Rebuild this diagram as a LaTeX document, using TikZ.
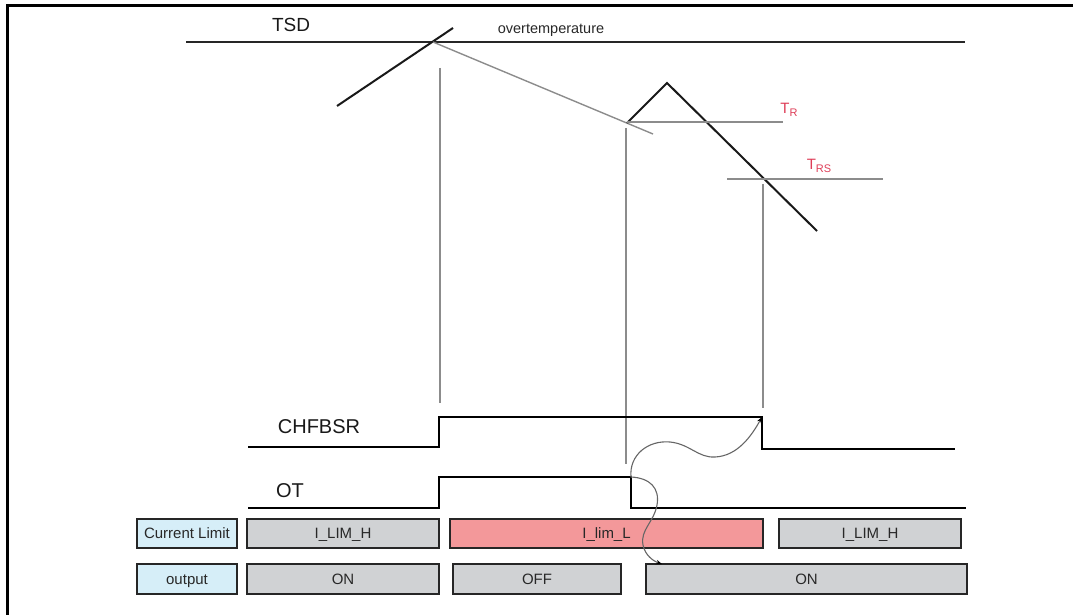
\documentclass[tikz,border=0pt]{standalone}
\usepackage{fontspec}
\setmainfont{Liberation Sans}
\usetikzlibrary{arrows.meta}
\definecolor{boxgray}{RGB}{208,210,212}
\definecolor{boxpink}{RGB}{243,152,154}
\definecolor{boxblue}{RGB}{214,238,248}
\definecolor{tred}{RGB}{222,62,88}
\definecolor{guide}{RGB}{140,140,140}
\definecolor{txt}{RGB}{40,40,40}
\tikzset{
  frameline/.style={line width=3pt, black},
  wave/.style={line width=2.8pt, black, line join=miter},
  temp/.style={line width=2pt, black!90},
  thinline/.style={line width=1.4pt, guide},
  guideline/.style={line width=1.3pt, guide},
  cbox/.style={draw=black!85, line width=1.5pt, inner sep=0pt, text=txt,
    text height=10.7pt, text depth=0pt,
    font=\fontsize{15}{17}\selectfont},
  biglabel/.style={inner sep=0pt, text=black!90, font=\fontsize{20}{23}\selectfont},
  tlabel/.style={inner sep=0pt, text=tred, font=\fontsize{15}{17}\selectfont},
  causal/.style={line width=1.1pt, black!60, -{Stealth[length=6pt,width=4.5pt,black]}}
}
\begin{document}
\begin{tikzpicture}[x=1pt,y=-1pt]
\useasboundingbox (0,0) rectangle (1073,615);
% frame
\draw[frameline] (7,615) -- (7,6) -- (1073,6);
% TSD axis
\node[inner sep=0pt, text=black!90, font=\fontsize{19}{22}\selectfont] (tsd) at (291,25) {TSD};
\node[inner sep=0pt, text=txt, font=\fontsize{14.5}{17}\selectfont] (ovt) at (551,30) {overtemperature};
\coordinate (axL) at (186,42);
\coordinate (axR) at (965,42);
\draw[line width=1.6pt, black!85] (axL) -- (axR);
% temperature curve
\coordinate (r1) at (337,106);
\coordinate (r2) at (453,28);
\coordinate (d1) at (433,42);
\coordinate (d2) at (653,134);
\coordinate (p1) at (627,123);
\coordinate (p2) at (667,83);
\coordinate (p3) at (817,231);
\draw[temp] (r1) -- (r2);
\draw[thinline] (d1) -- (d2);
\draw[temp, line join=miter] (p1) -- (p2) -- (p3);
% thresholds
\coordinate (trL) at (627,122);
\coordinate (trR) at (783,122);
\coordinate (trsL) at (727,179);
\coordinate (trsR) at (883,179);
\draw[thinline] (trL) -- (trR);
\draw[thinline] (trsL) -- (trsR);
\node[tlabel] (tr) at (789,110) {T\raisebox{-0.4ex}{\fontsize{11}{13}\selectfont R}};
\node[tlabel] (trs) at (819,166) {T\raisebox{-0.4ex}{\fontsize{11}{13}\selectfont RS}};
% guide lines
\coordinate (g1t) at (440,68);  \coordinate (g1b) at (440,403);
\coordinate (g2t) at (626,128); \coordinate (g2b) at (626,464);
\coordinate (g3t) at (763,184); \coordinate (g3b) at (763,408);
\draw[guideline] (g1t) -- (g1b);
\draw[guideline] (g2t) -- (g2b);
\draw[guideline] (g3t) -- (g3b);
% CHFBSR
\node[biglabel] (chf) at (319,427) {CHFBSR};
\coordinate (c0) at (248,447);
\coordinate (c1) at (439,447);
\coordinate (c2) at (439,417);
\coordinate (c3) at (762,417);
\coordinate (c4) at (762,449);
\coordinate (c5) at (955,449);
\draw[wave] (c0) -- (c1) -- (c2) -- (c3) -- (c4) -- (c5);
% OT
\node[biglabel] (ot) at (290,491) {OT};
\coordinate (o0) at (248,508);
\coordinate (o1) at (439,508);
\coordinate (o2) at (439,477);
\coordinate (o3) at (631,477);
\coordinate (o4) at (631,508);
\coordinate (o5) at (966,508);
\draw[wave] (o0) -- (o1) -- (o2) -- (o3) -- (o4) -- (o5);
% current limit row
\node[cbox, fill=boxblue, minimum width=100pt, minimum height=29pt] (cl) at (187,533.5) {Current Limit};
\node[cbox, fill=boxgray, minimum width=192pt, minimum height=29pt] (clh1) at (343,533.5) {I\_LIM\_H};
\node[cbox, fill=boxpink, minimum width=313pt, minimum height=29pt] (cll) at (606.5,533.5) {I\_lim\_L};
\node[cbox, fill=boxgray, minimum width=182pt, minimum height=29pt] (clh2) at (870,533.5) {I\_LIM\_H};
% output row
\node[cbox, fill=boxblue, minimum width=100pt, minimum height=30pt] (outl) at (187,579) {output};
\node[cbox, fill=boxgray, minimum width=192pt, minimum height=30pt] (on1) at (343,579) {ON};
\node[cbox, fill=boxgray, minimum width=168pt, minimum height=30pt] (off) at (537,579) {OFF};
\node[cbox, fill=boxgray, minimum width=321pt, minimum height=30pt] (on2) at (806.5,579) {ON};
% causal arrows
\coordinate (a1) at (670,442);
\coordinate (a2) at (715,457);
\coordinate (b1) at (657,505);
\coordinate (b2) at (643,545);
\coordinate (bend) at (662,564);
\draw[causal] (o3) .. controls (629,455) and (648,440) .. (a1)
  .. controls (690,444) and (698,458) .. (a2)
  .. controls (738,456) and (752,435) .. (c3);
\draw[causal] (o3) .. controls (650,478) and (660,488) .. (b1)
  .. controls (654,522) and (640,530) .. (b2)
  .. controls (645,555) and (653,561) .. (bend);
\end{tikzpicture}
\end{document}
